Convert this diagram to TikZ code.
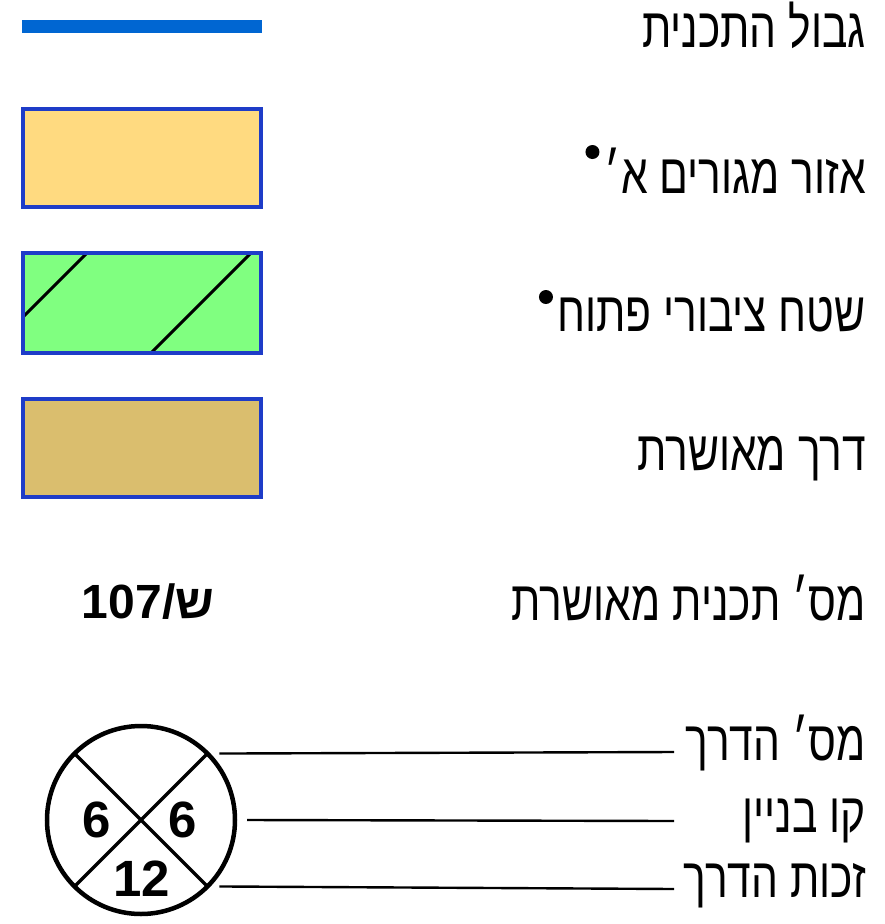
\documentclass[tikz,border=0pt]{standalone}
\usepackage{fontspec}
\setmainfont{Liberation Sans}
\newfontfamily\hebfont[Script=Hebrew,FakeStretch=0.76]{Liberation Sans}
\TeXXeTstate=1
\usetikzlibrary{positioning}
\definecolor{planblue}{RGB}{0,102,210}
\definecolor{boxblue}{RGB}{30,60,200}
\definecolor{zoneyellow}{RGB}{255,218,128}
\definecolor{parkgreen}{RGB}{128,255,128}
\definecolor{roadtan}{RGB}{218,190,110}
\tikzset{
  hebtext/.style={anchor=base east,inner sep=0pt,font=\hebfont\fontsize{56}{60}\selectfont},
  legendbox/.style={draw=boxblue,line width=3.5pt},
  dotmark/.style={circle,fill=black,inner sep=0pt,minimum size=14pt},
  digits/.style={inner sep=0pt,font=\bfseries\fontsize{51}{51}\selectfont},
  leader/.style={line width=2.4pt}
}
\begin{document}
\begin{tikzpicture}[x=1pt,y=-1pt]
\useasboundingbox (0,0) rectangle (884,924);
% plan boundary
\draw[planblue,line width=13pt] (22,26) -- (262,26);
\node[hebtext] (t1) at (866,47) {\beginR גבול התכנית\endR};
% residential zone
\filldraw[legendbox,fill=zoneyellow] (23,109) rectangle (261,207);
\node[hebtext] (t2) at (866,193) {\beginR אזור מגורים א׳\endR};
\node[dotmark] (d2) at ([xshift=-12pt,yshift=41pt]t2.base west) {};
% open public space
\fill[parkgreen] (23,253) rectangle (261,353);
\begin{scope}
\clip (23,253) rectangle (261,353);
\draw[line width=3pt] (-20,360) -- (110,230) (144,360) -- (274,230);
\end{scope}
\draw[legendbox] (23,253) rectangle (261,353);
\node[hebtext] (t3) at (866,331) {\beginR שטח ציבורי פתוח\endR};
\node[dotmark] (d3) at ([xshift=-11pt,yshift=34pt]t3.base west) {};
% approved road
\filldraw[legendbox,fill=roadtan] (23,399) rectangle (261,497);
\node[hebtext] (t4) at (866,470) {\beginR דרך מאושרת\endR};
% approved plan number
\node[digits,font=\bfseries\fontsize{48}{48}\selectfont] (pn) at (148,602) {\beginR ש/\beginL 107\endL\endR};
\node[hebtext] (t5) at (866,620) {\beginR מס׳ תכנית מאושרת\endR};
% road symbol
\node[draw,circle,line width=4.5pt,minimum size=188pt,inner sep=0pt,outer sep=0pt] (rc) at (141,820) {};
\draw[line width=3.5pt] (rc.45) -- (rc.225) (rc.135) -- (rc.315);
\node[digits] (wl) at (97,820) {6};
\node[digits] (wr) at (183,820) {6};
\node[digits] (wb) at (142,879) {12};
\node[hebtext] (t6) at (866,760) {\beginR מס׳ הדרך\endR};
\node[hebtext] (t7) at (866,832) {\beginR קו בניין\endR};
\node[hebtext] (t8) at (866,897) {\beginR זכות הדרך\endR};
\coordinate (e6) at (674,752);
\coordinate (e7) at (674,821);
\coordinate (e8) at (674,889);
\draw[leader] ([xshift=12pt]rc.45) -- (e6);
\draw[leader] ([xshift=12pt]rc.east) -- (e7);
\draw[leader] ([xshift=12pt]rc.315) -- (e8);
\end{tikzpicture}
\end{document}
